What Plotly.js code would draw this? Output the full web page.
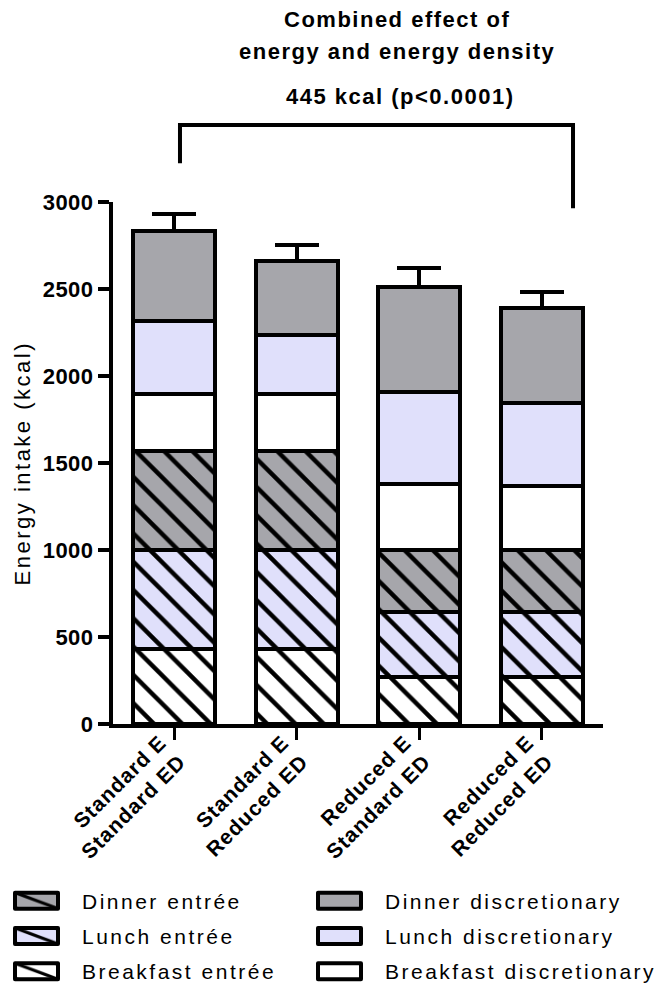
<!DOCTYPE html>
<html>
<head>
<meta charset="utf-8">
<script src="https://cdn.plot.ly/plotly-3.0.1.min.js"></script>
<style>
  body { margin: 0; background: #fff; }
  text.legendtext, text.legend2text { letter-spacing: 2.5px; }
  .ytick text { letter-spacing: 0.5px; }
  .xtick text { letter-spacing: 1px; }
  text.annotation-text { letter-spacing: 1.5px; }
  /* wider legend swatches, like the original figure */
  g.legendpoints path {
    transform: translate(36.5px, 0px) scale(3.583, 1.333) !important;
    vector-effect: non-scaling-stroke;
    stroke-width: 4px !important;
    stroke-linejoin: round;
  }
</style>
</head>
<body>
<div id="chart" style="width:664px;height:994px;"></div>
<script>
// conditions (x categories)
var conditions = ['Standard E<br>Standard ED', 'Standard E<br>Reduced ED', 'Reduced E<br>Standard ED', 'Reduced E<br>Reduced ED'];

// energy intake per meal component (kcal), stacked bottom to top
var breakfastEntree = [430, 430, 272, 270];
var lunchEntree = [570, 568, 372, 374];
var dinnerEntree = [568, 570, 357, 357];
var breakfastDisc = [327, 327, 377, 368];
var lunchDisc = [422, 340, 528, 474];
var dinnerDisc = [517, 425, 606, 549];
// SEM of total intake (drawn upward only)
var totalSem = [95, 92, 109, 88];

var yTicks = [0, 500, 1000, 1500, 2000, 2500, 3000];

var GREY = '#a6a6ab';
var LAVENDER = '#e0e0fb';
var WHITE = '#ffffff';
var FONT = '"Liberation Sans", Arial, sans-serif';

function makeBar(name, values, color, hatched, legendName, rank){
  var marker = {
    color: color,
    line: {color: 'black', width: 4}
  };
  if(hatched){
    marker.pattern = {shape: '\\', fgcolor: 'black', bgcolor: color, size: 20, solidity: 0.22};
  }
  return {
    type: 'bar',
    name: name,
    x: conditions,
    y: values,
    marker: marker,
    legend: legendName,
    legendgroup: name,
    legendrank: rank,
    hoverinfo: 'skip'
  };
}

var data = [
  makeBar('Breakfast entrée', breakfastEntree, WHITE, true, 'legend', 3),
  makeBar('Lunch entrée', lunchEntree, LAVENDER, true, 'legend', 2),
  makeBar('Dinner entrée', dinnerEntree, GREY, true, 'legend', 1),
  makeBar('Breakfast discretionary', breakfastDisc, WHITE, false, 'legend2', 3),
  makeBar('Lunch discretionary', lunchDisc, LAVENDER, false, 'legend2', 2),
  makeBar('Dinner discretionary', dinnerDisc, GREY, false, 'legend2', 1)
];
// error bar sits on top of the full stack
data[5].error_y = {
  type: 'data', symmetric: false, array: totalSem, arrayminus: [0, 0, 0, 0],
  color: 'black', thickness: 4, width: 22
};

var legendStyle = {
  orientation: 'v',
  xref: 'container', yref: 'container',
  xanchor: 'left', yanchor: 'top',
  font: {family: FONT, size: 21, color: 'black'},
  itemwidth: 72,
  tracegroupgap: 5,
  bgcolor: 'rgba(0,0,0,0)'
};

var titleFont = {family: FONT, size: 22, weight: 'bold', color: 'black'};

var layout = {
  width: 664,
  height: 994,
  margin: {l: 113, r: 61, t: 202, b: 270, autoexpand: false},
  paper_bgcolor: 'white',
  plot_bgcolor: 'white',
  barmode: 'stack',
  bargap: 0.33,
  font: {family: FONT, color: 'black'},
  xaxis: {
    type: 'category',
    range: [-0.5, 3.5],
    showline: true, linewidth: 4, linecolor: 'black',
    ticks: 'outside', ticklen: 12, tickwidth: 3, tickcolor: 'black',
    tickangle: -45,
    ticklabelstandoff: -18,
    ticklabelshift: -14,
    tickfont: {family: FONT, size: 21, weight: 'bold', color: 'black'},
    showgrid: false, zeroline: false,
    automargin: false
  },
  yaxis: {
    range: [0, 3000],
    tickvals: yTicks,
    ticktext: yTicks.map(String),
    showline: true, linewidth: 4, linecolor: 'black',
    ticks: 'outside', ticklen: 11, tickwidth: 4, tickcolor: 'black',
    tickfont: {family: FONT, size: 22, weight: 'bold', color: 'black'},
    showgrid: false, zeroline: false,
    automargin: false
  },
  legend: Object.assign({x: 0, y: 0.1142}, legendStyle),
  legend2: Object.assign({x: 0.4563, y: 0.1142}, legendStyle),
  shapes: [{
    type: 'path', xref: 'paper', yref: 'paper',
    path: 'M 0.1367,1.0740 L 0.1367,1.1476 L 0.9388,1.1476 L 0.9388,0.9880',
    line: {color: 'black', width: 4}
  }],
  annotations: [
    {text: 'Combined effect of', xref: 'paper', yref: 'paper', x: 0.5796, y: 1.3495,
     xanchor: 'center', yanchor: 'middle', showarrow: false, font: titleFont},
    {text: 'energy and energy density', xref: 'paper', yref: 'paper', x: 0.5796, y: 1.2883,
     xanchor: 'center', yanchor: 'middle', showarrow: false, font: titleFont},
    {text: '445 kcal (p&lt;0.0001)', xref: 'paper', yref: 'paper', x: 0.585, y: 1.2022,
     xanchor: 'center', yanchor: 'middle', showarrow: false, font: titleFont},
    // y axis title
    {text: '<span style="letter-spacing:2.5px">Energy intake (kcal)</span>', xref: 'paper', yref: 'paper',
     x: -0.1857, y: 0.4992, xanchor: 'center', yanchor: 'middle', textangle: -90,
     showarrow: false, font: {family: FONT, size: 22, color: 'black'}}
  ]
};

Plotly.newPlot('chart', data, layout, {staticPlot: true});
</script>
</body>
</html>
